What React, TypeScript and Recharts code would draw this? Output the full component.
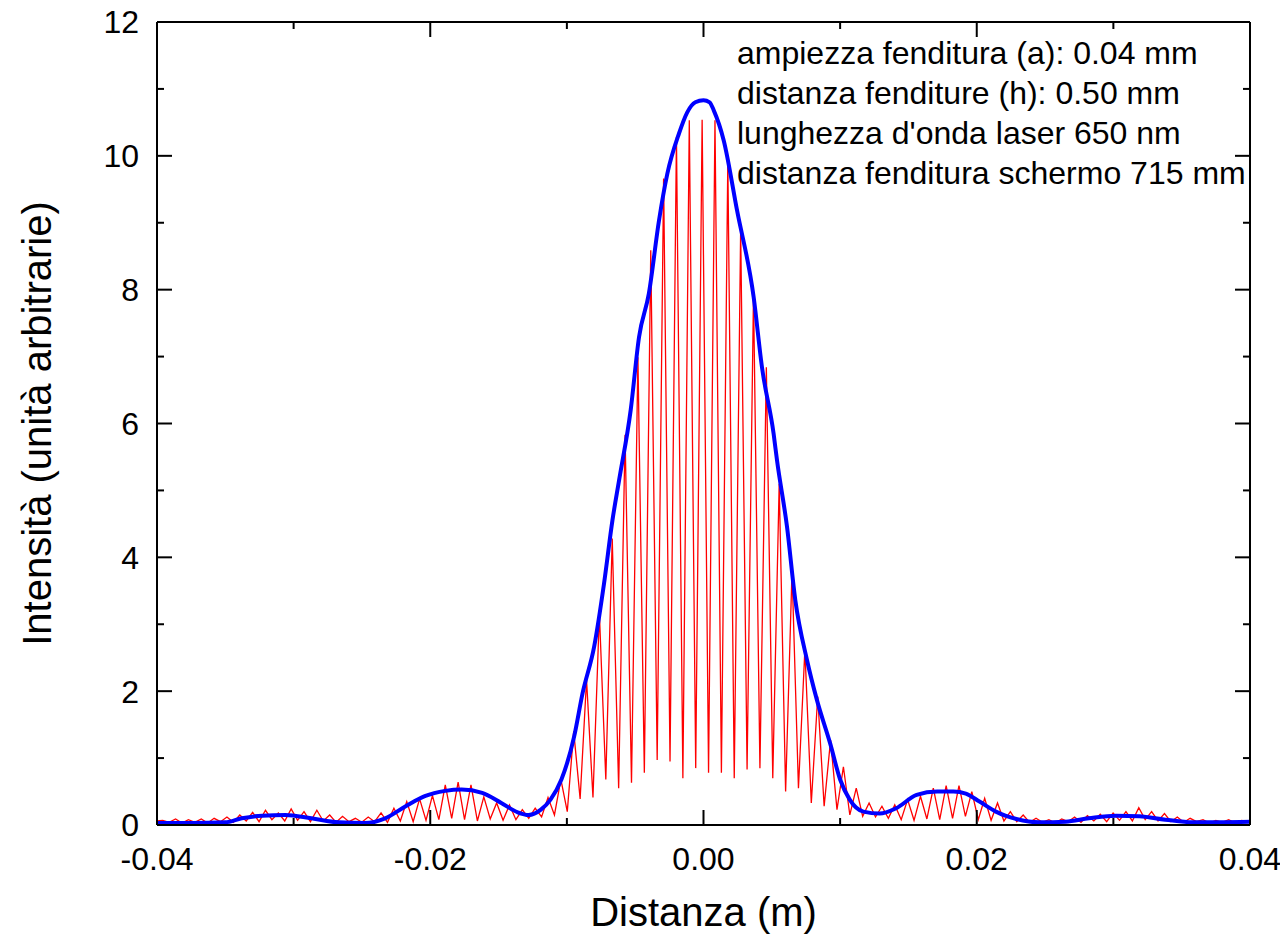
import React from 'react';
import { LineChart, Line, XAxis, YAxis, Label, ReferenceLine } from 'recharts';

// Measured intensity (red trace): positions (m) and intensity (a.u.)
const redX = [
  -0.04005, -0.03958, -0.03911, -0.03864, -0.03817, -0.0377, -0.03723, -0.03676, -0.03629, -0.03582,
  -0.03535, -0.03488, -0.03441, -0.03394, -0.03347, -0.033, -0.03253, -0.03206, -0.03159, -0.03112,
  -0.03065, -0.03018, -0.02971, -0.02924, -0.02877, -0.0283, -0.02783, -0.02736, -0.02689, -0.02642,
  -0.02595, -0.02548, -0.02501, -0.02454, -0.02407, -0.0236, -0.02313, -0.02266, -0.02219, -0.02172,
  -0.02125, -0.02078, -0.02031, -0.01984, -0.01937, -0.0189, -0.01843, -0.01796, -0.01749, -0.01702,
  -0.01655, -0.01608, -0.01561, -0.01514, -0.01467, -0.0142, -0.01373, -0.01326, -0.01279, -0.01232,
  -0.01185, -0.01138, -0.01091, -0.01044, -0.00997, -0.0095, -0.00903, -0.00856, -0.00809, -0.00762,
  -0.00715, -0.00668, -0.00621, -0.00574, -0.00527, -0.0048, -0.00433, -0.00386, -0.00339, -0.00292,
  -0.00245, -0.00198, -0.00151, -0.00104, -0.00057, -0.0001, 0.00037, 0.00084, 0.00131, 0.00178,
  0.00225, 0.00272, 0.00319, 0.00366, 0.00413, 0.0046, 0.00507, 0.00554, 0.00601, 0.00648,
  0.00695, 0.00742, 0.00789, 0.00836, 0.00883, 0.0093, 0.00977, 0.01024, 0.01071, 0.01118,
  0.01165, 0.01212, 0.01259, 0.01306, 0.01353, 0.014, 0.01447, 0.01494, 0.01541, 0.01588,
  0.01635, 0.01682, 0.01729, 0.01776, 0.01823, 0.0187, 0.01917, 0.01964, 0.02011, 0.02058,
  0.02105, 0.02152, 0.02199, 0.02246, 0.02293, 0.0234, 0.02387, 0.02434, 0.02481, 0.02528,
  0.02575, 0.02622, 0.02669, 0.02716, 0.02763, 0.0281, 0.02857, 0.02904, 0.02951, 0.02998,
  0.03045, 0.03092, 0.03139, 0.03186, 0.03233, 0.0328, 0.03327, 0.03374, 0.03421, 0.03468,
  0.03515, 0.03562, 0.03609, 0.03656, 0.03703, 0.0375, 0.03797, 0.03844, 0.03891, 0.03938, 0.03985,
];

const redY = [
  0.06, 0.07, 0.04, 0.09, 0.03, 0.08, 0.04, 0.09, 0.03, 0.10,
  0.05, 0.12, 0.04, 0.15, 0.06, 0.19, 0.05, 0.22, 0.08, 0.18,
  0.06, 0.24, 0.07, 0.20, 0.05, 0.22, 0.06, 0.15, 0.04, 0.13,
  0.05, 0.10, 0.04, 0.12, 0.05, 0.18, 0.04, 0.25, 0.06, 0.35,
  0.05, 0.39, 0.07, 0.44, 0.08, 0.60, 0.10, 0.64, 0.08, 0.60,
  0.06, 0.42, 0.09, 0.33, 0.07, 0.30, 0.08, 0.23, 0.10, 0.25,
  0.12, 0.41, 0.15, 0.68, 0.20, 1.40, 0.39, 2.17, 0.41, 3.16,
  0.68, 4.28, 0.55, 5.83, 0.63, 6.99, 0.78, 8.59, 0.97, 9.66,
  0.95, 10.28, 0.70, 10.53, 0.85, 10.54, 0.78, 10.53, 0.78, 9.93,
  0.70, 8.91, 0.83, 7.94, 0.85, 6.84, 0.70, 5.10, 0.50, 3.80,
  0.55, 2.62, 0.33, 1.92, 0.28, 1.27, 0.23, 0.87, 0.15, 0.55,
  0.13, 0.33, 0.12, 0.28, 0.10, 0.30, 0.08, 0.38, 0.07, 0.43,
  0.09, 0.55, 0.08, 0.59, 0.10, 0.59, 0.13, 0.50, 0.08, 0.40,
  0.07, 0.33, 0.06, 0.20, 0.05, 0.15, 0.04, 0.10, 0.04, 0.08,
  0.03, 0.09, 0.05, 0.12, 0.04, 0.14, 0.06, 0.16, 0.05, 0.18,
  0.07, 0.20, 0.06, 0.26, 0.08, 0.20, 0.06, 0.17, 0.05, 0.12,
  0.04, 0.10, 0.05, 0.08, 0.03, 0.07, 0.04, 0.08, 0.03, 0.07, 0.05,
];

// Envelope (blue curve)
const blueX = [
  -0.04, -0.0375, -0.035, -0.0338, -0.0323, -0.0306, -0.0287, -0.0267, -0.0248, -0.0233,
  -0.0218, -0.0204, -0.0189, -0.0177, -0.0162, -0.0148, -0.0136, -0.0128, -0.0119, -0.0112,
  -0.0104, -0.00947, -0.00885, -0.008, -0.00728, -0.00666, -0.00618, -0.00533, -0.00472, -0.004,
  -0.00326, -0.00265, -0.0018, -0.00119, -0.0006, 0, 0.00045, 0.00075, 0.00148, 0.00246,
  0.00367, 0.00428, 0.00513, 0.00538, 0.00611, 0.00672, 0.00757, 0.0083, 0.00927, 0.01,
  0.0107, 0.0117, 0.0129, 0.0141, 0.0156, 0.0171, 0.0183, 0.0192, 0.0202, 0.0214,
  0.0229, 0.0246, 0.0265, 0.0282, 0.0302, 0.0319, 0.0338, 0.0358, 0.04,
];

const blueY = [
  0.03, 0.03, 0.04, 0.10, 0.14, 0.15, 0.10, 0.04, 0.03, 0.10,
  0.28, 0.43, 0.51, 0.53, 0.48, 0.33, 0.19, 0.15, 0.23, 0.38,
  0.68, 1.32, 1.97, 2.67, 3.61, 4.56, 5.15, 6.20, 7.29, 7.94,
  9.03, 9.73, 10.33, 10.65, 10.80, 10.83, 10.80, 10.68, 10.23, 9.18,
  7.89, 6.84, 5.85, 5.45, 4.46, 3.36, 2.47, 1.87, 1.22, 0.68,
  0.38, 0.20, 0.17, 0.25, 0.45, 0.50, 0.50, 0.47, 0.35, 0.20,
  0.09, 0.04, 0.05, 0.10, 0.14, 0.13, 0.08, 0.04, 0.05,
];

const xAllTicks = [-0.04, -0.03, -0.02, -0.01, 0, 0.01, 0.02, 0.03, 0.04];
const xMajorTicks = [-0.04, -0.02, 0, 0.02, 0.04];
const xTickLabels = ['-0.04', '-0.02', '0.00', '0.02', '0.04'];
const yAllTicks = [0, 1, 2, 3, 4, 5, 6, 7, 8, 9, 10, 11, 12];
const yMajorTicks = [0, 2, 4, 6, 8, 10, 12];
const yTickLabels = ['0', '2', '4', '6', '8', '10', '12'];

const annotationLines = [
  'ampiezza fenditura (a): 0.04 mm',
  'distanza fenditure (h): 0.50 mm',
  "lunghezza d'onda laser 650 nm",
  'distanza fenditura schermo 715 mm',
];

const xTitle = 'Distanza (m)';
const yTitle = 'Intensità (unità arbitrarie)';

const FONT = "'Liberation Sans', Arial, Helvetica, sans-serif";

const redData = redX.map((x, i) => ({ x, y: redY[i] }));
const blueData = blueX.map((x, i) => ({ x, y: blueY[i] }));

const X_DOMAIN: [number, number] = [-0.04, 0.04];
const Y_DOMAIN: [number, number] = [0, 12];

// layout (chart covers the whole 1288x944 window)
const W = 1288;
const H = 944;
const M_TOP = 22;
const M_RIGHT = 38;
const Y_AXIS_W = 157;
const X_AXIS_H = 119;
const PLOT_TOP = M_TOP;
const PLOT_BOTTOM = H - X_AXIS_H;
const PLOT_LEFT = Y_AXIS_W;
const PLOT_RIGHT = W - M_RIGHT;
const MAJOR_LEN = 15;
const MINOR_LEN = 7;

const findIdx = (arr: number[], v: number) => arr.findIndex((t) => Math.abs(t - v) < 1e-9);

const XTick = (props: any) => {
  const { x, payload } = props;
  const i = findIdx(xMajorTicks, payload.value);
  const len = i >= 0 ? MAJOR_LEN : MINOR_LEN;
  return (
    <g>
      <line x1={x} x2={x} y1={PLOT_BOTTOM} y2={PLOT_BOTTOM - len} stroke="#000" strokeWidth={2} />
      <line x1={x} x2={x} y1={PLOT_TOP} y2={PLOT_TOP + len} stroke="#000" strokeWidth={2} />
      {i >= 0 && (
        <text
          x={x}
          y={PLOT_BOTTOM + 22}
          dy="0.71em"
          textAnchor="middle"
          fill="#000"
          fontSize={32}
          fontFamily={FONT}
        >
          {xTickLabels[i]}
        </text>
      )}
    </g>
  );
};

const YTick = (props: any) => {
  const { y, payload } = props;
  const i = findIdx(yMajorTicks, payload.value);
  const len = i >= 0 ? MAJOR_LEN : MINOR_LEN;
  return (
    <g>
      <line x1={PLOT_LEFT} x2={PLOT_LEFT + len} y1={y} y2={y} stroke="#000" strokeWidth={2} />
      <line x1={PLOT_RIGHT} x2={PLOT_RIGHT - len} y1={y} y2={y} stroke="#000" strokeWidth={2} />
      {i >= 0 && (
        <text
          x={PLOT_LEFT - 18}
          y={y}
          dy="0.355em"
          textAnchor="end"
          fill="#000"
          fontSize={32}
          fontFamily={FONT}
        >
          {yTickLabels[i]}
        </text>
      )}
    </g>
  );
};

export default function App() {
  return (
    <div style={{ position: 'relative', width: W, height: H, margin: -8, background: '#fff' }}>
      <LineChart width={W} height={H} margin={{ top: M_TOP, right: M_RIGHT, left: 0, bottom: 0 }}>
        <XAxis
          xAxisId="x"
          type="number"
          dataKey="x"
          domain={X_DOMAIN}
          allowDataOverflow
          ticks={xAllTicks}
          interval={0}
          tickLine={false}
          tickSize={0}
          tickMargin={22}
          axisLine={{ stroke: '#000', strokeWidth: 2 }}
          height={X_AXIS_H}
          tick={<XTick />}
        >
          <Label
            value={xTitle}
            position="insideBottom"
            offset={18}
            style={{ fill: '#000', fontSize: 40, fontFamily: FONT }}
          />
        </XAxis>
        <YAxis
          yAxisId="y"
          type="number"
          domain={Y_DOMAIN}
          allowDataOverflow
          ticks={yAllTicks}
          interval={0}
          tickLine={false}
          tickSize={0}
          tickMargin={18}
          axisLine={{ stroke: '#000', strokeWidth: 2 }}
          width={Y_AXIS_W}
          tick={<YTick />}
        >
          <Label
            value={yTitle}
            angle={-90}
            position="insideLeft"
            offset={37}
            style={{ fill: '#000', fontSize: 40, fontFamily: FONT, textAnchor: 'middle' }}
          />
        </YAxis>

        <Line
          data={redData}
          dataKey="y"
          xAxisId="x"
          yAxisId="y"
          type="linear"
          stroke="#ff0000"
          strokeWidth={1.3}
          dot={false}
          activeDot={false}
          isAnimationActive={false}
        />
        <Line
          data={blueData}
          dataKey="y"
          xAxisId="x"
          yAxisId="y"
          type="monotone"
          stroke="#0000ff"
          strokeWidth={4}
          dot={false}
          activeDot={false}
          isAnimationActive={false}
        />
        {/* closing frame: top and right edges of the plot */}
        <ReferenceLine xAxisId="x" yAxisId="y" y={12} stroke="#000" strokeWidth={2} />
        <ReferenceLine xAxisId="x" yAxisId="y" x={0.04} stroke="#000" strokeWidth={2} />
      </LineChart>
      <div
        style={{
          position: 'absolute',
          left: 737,
          top: 33,
          fontFamily: FONT,
          fontSize: 32,
          lineHeight: '40px',
          color: '#000',
          whiteSpace: 'nowrap',
          pointerEvents: 'none',
        }}
      >
        {annotationLines.map((t) => (
          <div key={t}>{t}</div>
        ))}
      </div>
    </div>
  );
}
